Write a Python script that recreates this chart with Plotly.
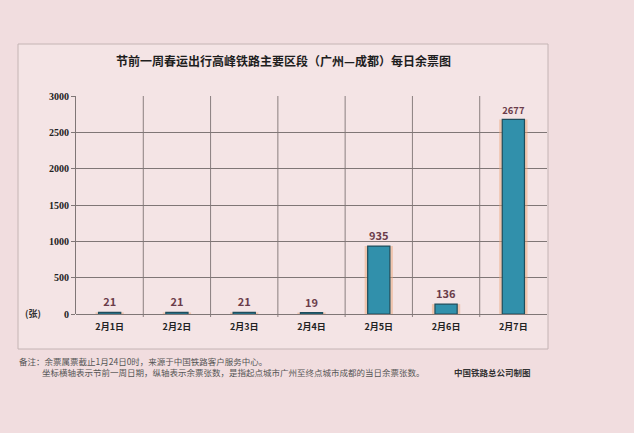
import plotly.graph_objects as go

categories = ["2月1日", "2月2日", "2月3日", "2月4日", "2月5日", "2月6日", "2月7日"]
tickets = [21, 21, 21, 19, 935, 136, 2677]
y_ticks = [0, 500, 1000, 1500, 2000, 2500, 3000]

title = "节前一周春运出行高峰铁路主要区段（广州—成都）每日余票图"
note1 = "备注：余票属票截止1月24日0时，来源于中国铁路客户服务中心。"
note2 = "坐标横轴表示节前一周日期，纵轴表示余票张数，是指起点城市广州至终点城市成都的当日余票张数。"
credit = "中国铁路总公司制图"

W, H = 634, 433
L, R, T, B = 76, 547, 96, 314
pw, ph = R - L, B - T

def px(x):
    return (x - L) / pw

def py(y):
    return (B - y) / ph

CJK = "Noto Sans CJK SC"

fig = go.Figure()
# glow behind bars
fig.add_trace(go.Bar(
    x=categories, y=tickets, width=0.42,
    marker=dict(color="rgba(236,165,120,0.5)", line=dict(width=0)),
    hoverinfo="skip", showlegend=False,
))
fig.add_trace(go.Bar(
    x=categories, y=tickets, width=0.33,
    marker=dict(color="#3190ab", line=dict(color="#1e4d5c", width=1.2)),
    text=["<b>" + str(v) + "</b>" for v in tickets], textposition="outside",
    textfont=dict(family=CJK, size=11, color="#6b3c4a"),
    cliponaxis=False, showlegend=False,
))

shapes = []
# outer box
shapes.append(dict(type="rect", xref="paper", yref="paper",
                   x0=px(18), x1=px(548), y0=py(349), y1=py(44),
                   fillcolor="#f4e4e5", line=dict(color="#c4b4b4", width=1), layer="below"))
# vertical gridlines at category boundaries
for i in range(1, len(categories)):
    shapes.append(dict(type="line", xref="x", yref="paper",
                       x0=i - 0.5, x1=i - 0.5, y0=py(317), y1=1,
                       line=dict(color="#6f6666", width=0.8), layer="below"))

annotations = [
    dict(text="<b>" + title + "</b>", xref="paper", yref="paper", x=px(283), y=py(61),
         showarrow=False, font=dict(family=CJK, size=12, color="#1e1e1e"),
         xanchor="center", yanchor="middle"),
    dict(text="<b>(张)</b>", xref="paper", yref="paper", x=px(33), y=py(313),
         showarrow=False, font=dict(family=CJK, size=9, color="#333333"),
         xanchor="center", yanchor="middle"),
    dict(text=note1, xref="paper", yref="paper", x=px(17), y=py(361),
         showarrow=False, font=dict(family=CJK, size=8.5, color="#555555"),
         xanchor="left", yanchor="middle"),
    dict(text=note2, xref="paper", yref="paper", x=px(40), y=py(372),
         showarrow=False, font=dict(family=CJK, size=8.5, color="#555555"),
         xanchor="left", yanchor="middle"),
    dict(text="<b>" + credit + "</b>", xref="paper", yref="paper", x=px(452), y=py(372),
         showarrow=False, font=dict(family=CJK, size=8.5, color="#333333"),
         xanchor="left", yanchor="middle"),
]

fig.update_layout(
    width=W, height=H,
    margin=dict(l=L, r=W - R, t=T, b=H - B, pad=0),
    paper_bgcolor="#f1dddf",
    plot_bgcolor="rgba(0,0,0,0)",
    barmode="overlay",
    shapes=shapes,
    annotations=annotations,
    xaxis=dict(
        type="category", range=[-0.5, len(categories) - 0.5],
        showgrid=False, zeroline=False, showline=False,
        ticks="", ticklabelstandoff=6,
        tickvals=categories, ticktext=["<b>" + c + "</b>" for c in categories],
        tickfont=dict(family=CJK, size=9, color="#222222"),
    ),
    yaxis=dict(
        range=[0, 3000], tickvals=y_ticks,
        ticktext=["<b>" + str(v) + "</b>" for v in y_ticks],
        tickfont=dict(family="Liberation Serif", size=10, color="#222222"),
        showgrid=True, gridcolor="#7f7676", gridwidth=0.8,
        zeroline=True, zerolinecolor="#7f7676", zerolinewidth=0.8,
        showline=True, linecolor="#7f7676", linewidth=0.8,
        ticks="outside", ticklen=4, tickcolor="#7f7676",
    ),
    font=dict(family=CJK),
)

fig.write_html(
    "out.html",
    config={"displayModeBar": False},
    post_script="document.body.style.margin='0';document.body.style.background='#f1dddf';",
)
